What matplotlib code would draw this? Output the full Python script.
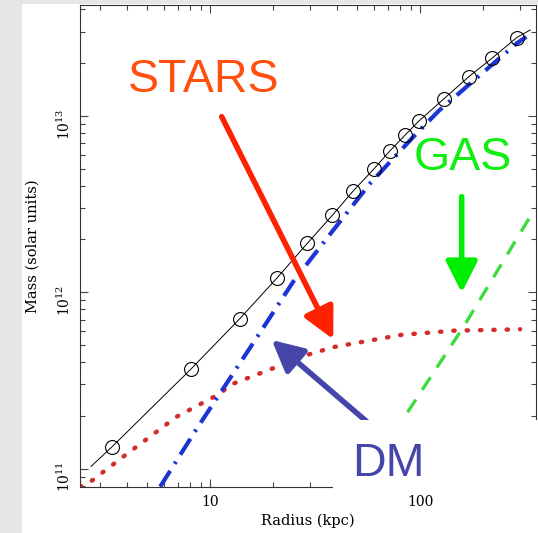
import matplotlib
matplotlib.use('Agg')
import matplotlib.pyplot as plt
from matplotlib.patches import Rectangle
from matplotlib.ticker import LogLocator, FuncFormatter, NullFormatter

# ---------------- data ----------------
obs_radius = [3.41, 8.09, 13.8, 20.9, 29.0, 38.2, 48.1, 60.0, 71.9, 85.1, 98.6, 130, 170, 219, 288]
obs_mass = [1.33e11, 3.66e11, 7.05e11, 1.21e12, 1.89e12, 2.73e12, 3.76e12, 4.97e12,
            6.34e12, 7.8e12, 9.33e12, 1.25e13, 1.66e13, 2.11e13, 2.77e13]

total_radius = [2.71, 3.41, 8.09, 13.8, 20.9, 29.0, 38.2, 48.1, 60.0, 71.9, 85.1, 98.6, 130, 170, 219, 288, 334]
total_mass = [1.03e11, 1.33e11, 3.66e11, 7.05e11, 1.21e12, 1.89e12, 2.73e12, 3.76e12, 4.97e12,
              6.34e12, 7.8e12, 9.33e12, 1.25e13, 1.66e13, 2.11e13, 2.77e13, 3.06e13]

stars_radius = [2.4, 2.68, 3.86, 6.93, 11.2, 12.4, 17.3, 28.8, 38.6, 80.4, 144, 299]
stars_mass = [7.9e10, 8.4e10, 1.17e11, 1.97e11, 2.67e11, 2.98e11, 3.47e11, 4.4e11, 4.88e11, 5.72e11, 6.05e11, 6.16e11]

dm_radius = [5.78, 8.65, 17.6, 24.9, 38.6, 57.8, 92.9, 122, 288, 320]
dm_mass = [7.9e10, 1.69e11, 6.1e11, 1.15e12, 2.25e12, 4.14e12, 7.6e12, 1.06e13, 2.57e13, 2.8e13]

gas_radius = [75, 83.4, 161, 334]
gas_mass = [1.55e11, 1.93e11, 6.38e11, 2.68e12]

x_label = 'Radius (kpc)'
y_label = 'Mass (solar units)'

# ---------------- figure ----------------
W, H = 538, 533
plt.rcParams['font.family'] = 'DejaVu Serif'
plt.rcParams['mathtext.fontset'] = 'dejavuserif'

fig = plt.figure(figsize=(W / 100, H / 100), dpi=100, facecolor='#e6e6e6')


def fx(px):
    return px / W


def fy(py):
    return 1 - py / H


fig.add_artist(Rectangle((fx(22), 0), 1 - fx(22), fy(4), transform=fig.transFigure,
                         facecolor='white', edgecolor='none', zorder=-5))

ax = fig.add_axes([fx(80), fy(486.7), fx(536) - fx(80), fy(5) - fy(486.7)])
ax.set_facecolor('white')
ax.set_xscale('log')
ax.set_yscale('log')
ax.set_xlim(2.4, 356)
ax.set_ylim(7.9e10, 4.24e13)

ax.plot(total_radius, total_mass, color='black', lw=0.7, zorder=2.2)
ax.plot(obs_radius, obs_mass, ls='none', marker='o', ms=10, mfc='none', mec='black', mew=0.8, zorder=2.3)
ax.plot(dm_radius, dm_mass, color='#1c34d4', lw=3, ls=(0, (4.5, 2.0, 0.6, 2.0)), zorder=2.1)
ax.plot(stars_radius, stars_mass, color='#d42b2b', lw=3.2, ls=(0, (0.3, 2.7)),
        dash_capstyle='round', zorder=2.0)
ax.plot(gas_radius, gas_mass, color='#3ddc3d', lw=2.4, ls=(0, (4.5, 3.5)), zorder=2.0)

# ticks
ax.xaxis.set_major_locator(LogLocator(base=10))
ax.xaxis.set_minor_locator(LogLocator(base=10, subs=range(2, 10)))
ax.xaxis.set_major_formatter(FuncFormatter(lambda v, p: f'{v:g}'))
ax.xaxis.set_minor_formatter(NullFormatter())
ax.yaxis.set_minor_locator(LogLocator(base=10, subs=range(2, 10)))
ax.yaxis.set_minor_formatter(NullFormatter())
ax.tick_params(which='both', direction='in', top=True, right=True, color='#444444', width=0.8)
ax.tick_params(which='major', length=6)
ax.tick_params(which='minor', length=3.5)
ax.tick_params(axis='x', which='major', labelsize=10, pad=6)
ax.tick_params(axis='y', which='major', labelsize=10, pad=5, labelrotation=90)
for s in ax.spines.values():
    s.set_linewidth(0.8)
    s.set_color('#333333')

ax.set_xlabel(x_label, fontsize=10.5)
ax.set_ylabel(y_label, fontsize=10.5)
ax.xaxis.set_label_coords(0.5, (486.7 - 514) / 481.7)
ax.yaxis.set_label_coords((40 - 80) / 456, 0.5)

# white box behind "DM"
ax.add_artist(Rectangle((fx(333), fy(491)), 1 - fx(333), fy(420) - fy(491), transform=fig.transFigure,
                        facecolor='white', edgecolor='none', zorder=3, clip_on=False))


def arrow(tail, tip, color, z):
    ax.annotate('', xy=(fx(tip[0]), fy(tip[1])), xytext=(fx(tail[0]), fy(tail[1])),
                xycoords='figure fraction', textcoords='figure fraction',
                arrowprops=dict(arrowstyle='-|>,head_length=0.95,head_width=0.48', lw=4,
                                color=color, shrinkA=0, shrinkB=0, mutation_scale=20),
                zorder=z, annotation_clip=False)


arrow((221.7, 116.7), (333.3, 339.3), '#ff2200', 4)
arrow((461.7, 196.7), (461.7, 292.7), '#00ee00', 4)
arrow((380, 433), (271.7, 340.0), '#4646aa', 2.9)

tkw = dict(family='Liberation Sans', fontsize=33.5, ha='left', va='baseline', zorder=6)
ax.text(fx(128), fy(92.5), 'STARS', color='#ff5010', transform=fig.transFigure, **tkw)
ax.text(fx(414), fy(170.5), 'GAS', color='#11ee11', transform=fig.transFigure, **tkw)
ax.text(fx(352), fy(476), 'DM', color='#4646aa', transform=fig.transFigure, **tkw)

fig.savefig('out.png', dpi=100, facecolor=fig.get_facecolor())
